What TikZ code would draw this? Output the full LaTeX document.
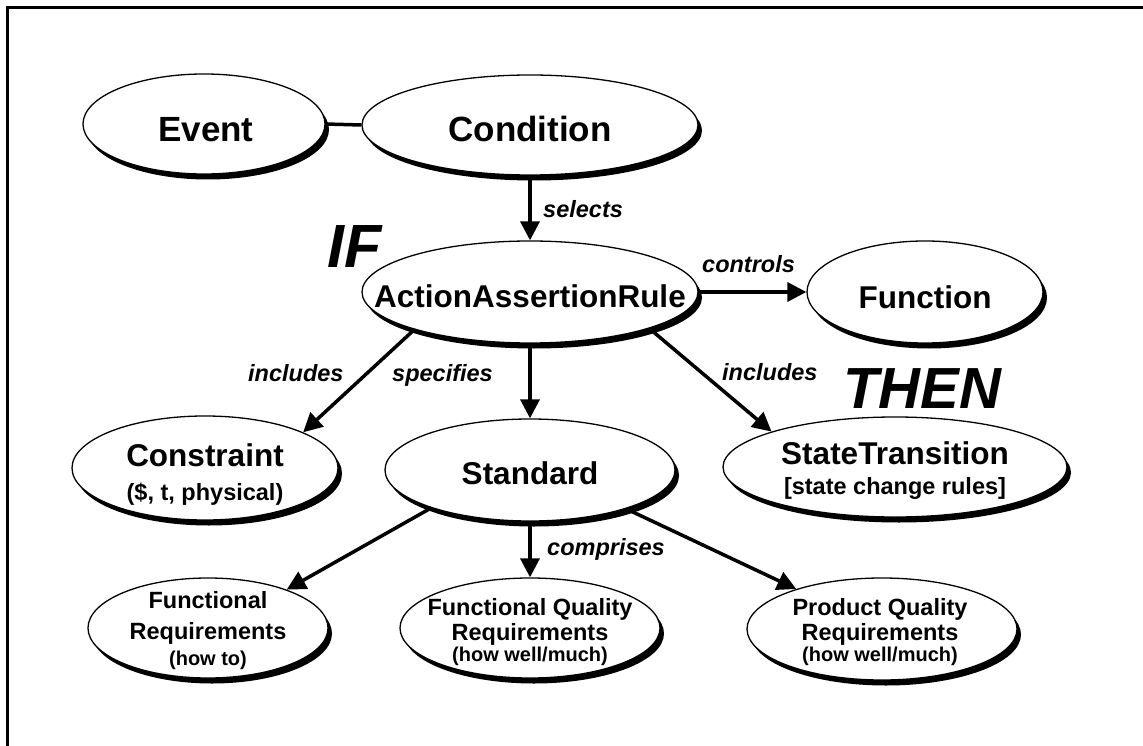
\documentclass[tikz,border=0pt]{standalone}
\usepackage{fontspec}
\setmainfont{Liberation Sans}
\usetikzlibrary{shapes.geometric,arrows.meta,shadows}
\begin{document}
\begin{tikzpicture}[x=1pt,y=-1pt,
  ell/.style={ellipse, draw=black, line width=1.3pt, fill=white, inner sep=0pt,
    drop shadow={shadow xshift=4pt, shadow yshift=-5.5pt, fill=black, opacity=1}},
  txt/.style={inner sep=0pt, anchor=base},
  huge/.style={txt, font=\fontsize{35}{40}\selectfont\bfseries},
  big/.style={txt, font=\fontsize{31.5}{36}\selectfont\bfseries},
  mid/.style={txt, font=\fontsize{23.5}{26}\selectfont\bfseries},
  sml/.style={txt, font=\fontsize{20}{24}\selectfont\bfseries},
  elab/.style={inner sep=0pt, anchor=base west, font=\fontsize{23.5}{26}\selectfont\bfseries\itshape},
  kw/.style={inner sep=0pt, anchor=base west, font=\fontsize{61}{66}\selectfont\bfseries\itshape},
  arr/.style={line width=3.5pt, -{Triangle[length=19pt,width=19pt]}},
  lnk/.style={line width=3.5pt}
]
\useasboundingbox (0,0) rectangle (1143,746);
\draw[line width=3pt] (1143,7.5) -- (7.5,7.5) -- (7.5,746);

% ellipses
\node[ell, minimum width=242pt, minimum height=100pt] (event) at (204,124) {};
\node[ell, minimum width=336pt, minimum height=100pt] (cond) at (530,125) {};
\node[ell, minimum width=336pt, minimum height=102pt] (aar) at (530,292) {};
\node[ell, minimum width=236pt, minimum height=102pt] (fun) at (925,292) {};
\node[ell, minimum width=266pt, minimum height=104pt] (cst) at (205,468) {};
\node[ell, minimum width=290pt, minimum height=102pt] (std) at (530,470) {};
\node[ell, minimum width=344pt, minimum height=100pt] (st) at (895,467) {};
\node[ell, minimum width=240pt, minimum height=100pt] (fr) at (208,628) {};
\node[ell, minimum width=260pt, minimum height=100pt] (fqr) at (530,628) {};
\node[ell, minimum width=270pt, minimum height=102pt] (pqr) at (882,629) {};

% texts
\node[huge] (event-t) at (206,142) {Event};
\node[huge] (cond-t) at (530,142) {Condition};
\node[big] (aar-t) at (530,307) {ActionAssertionRule};
\node[big] (fun-t) at (925,308) {Function};
\node[big] (cst-t1) at (205,466) {Constraint};
\node[mid] (cst-t2) at (205,500) {(\$, t, physical)};
\node[big] (std-t) at (530,484) {Standard};
\node[big] (st-t1) at (895,464) {StateTransition};
\node[mid] (st-t2) at (895,494) {[state change rules]};
\node[mid] (fr-t1) at (208,608) {Functional};
\node[mid] (fr-t2) at (208,639) {Requirements};
\node[sml] (fr-t3) at (208,665) {(how to)};
\node[mid] (fqr-t1) at (530,615) {Functional Quality};
\node[mid] (fqr-t2) at (530,640) {Requirements};
\node[sml] (fqr-t3) at (530,661) {(how well/much)};
\node[mid] (pqr-t1) at (880,615) {Product Quality};
\node[mid] (pqr-t2) at (880,640) {Requirements};
\node[sml] (pqr-t3) at (880,661) {(how well/much)};

% big keywords
\node[kw] (if) at (327,267) {IF};
\node[kw, font=\fontsize{58}{62}\selectfont\bfseries\itshape] (then) at (843,408) {THEN};

% connectors
\draw[lnk] (event.east) -- (cond.west);
\draw[arr] (cond.south) -- (aar.north);
\draw[arr] (aar.east) -- (fun.west);
\draw[arr] (aar.198.7) -- (cst.20.8);
\draw[arr] (aar.south) -- (std.north);
\draw[arr] (aar.343.8) -- (st.164.1);
\draw[arr] (std.201.2) -- (fr.26);
\draw[arr] (std.south) -- (fqr.north);
\draw[arr] (std.338.6) -- (pqr.155.5);

% connector labels
\node[elab] (l-sel) at (543,218) {selects};
\node[elab] (l-ctl) at (702,272) {controls};
\node[elab] (l-inc1) at (248,381) {includes};
\node[elab] (l-spec) at (392,381) {specifies};
\node[elab] (l-inc2) at (722,380) {includes};
\node[elab] (l-comp) at (547,555) {comprises};
\end{tikzpicture}
\end{document}
